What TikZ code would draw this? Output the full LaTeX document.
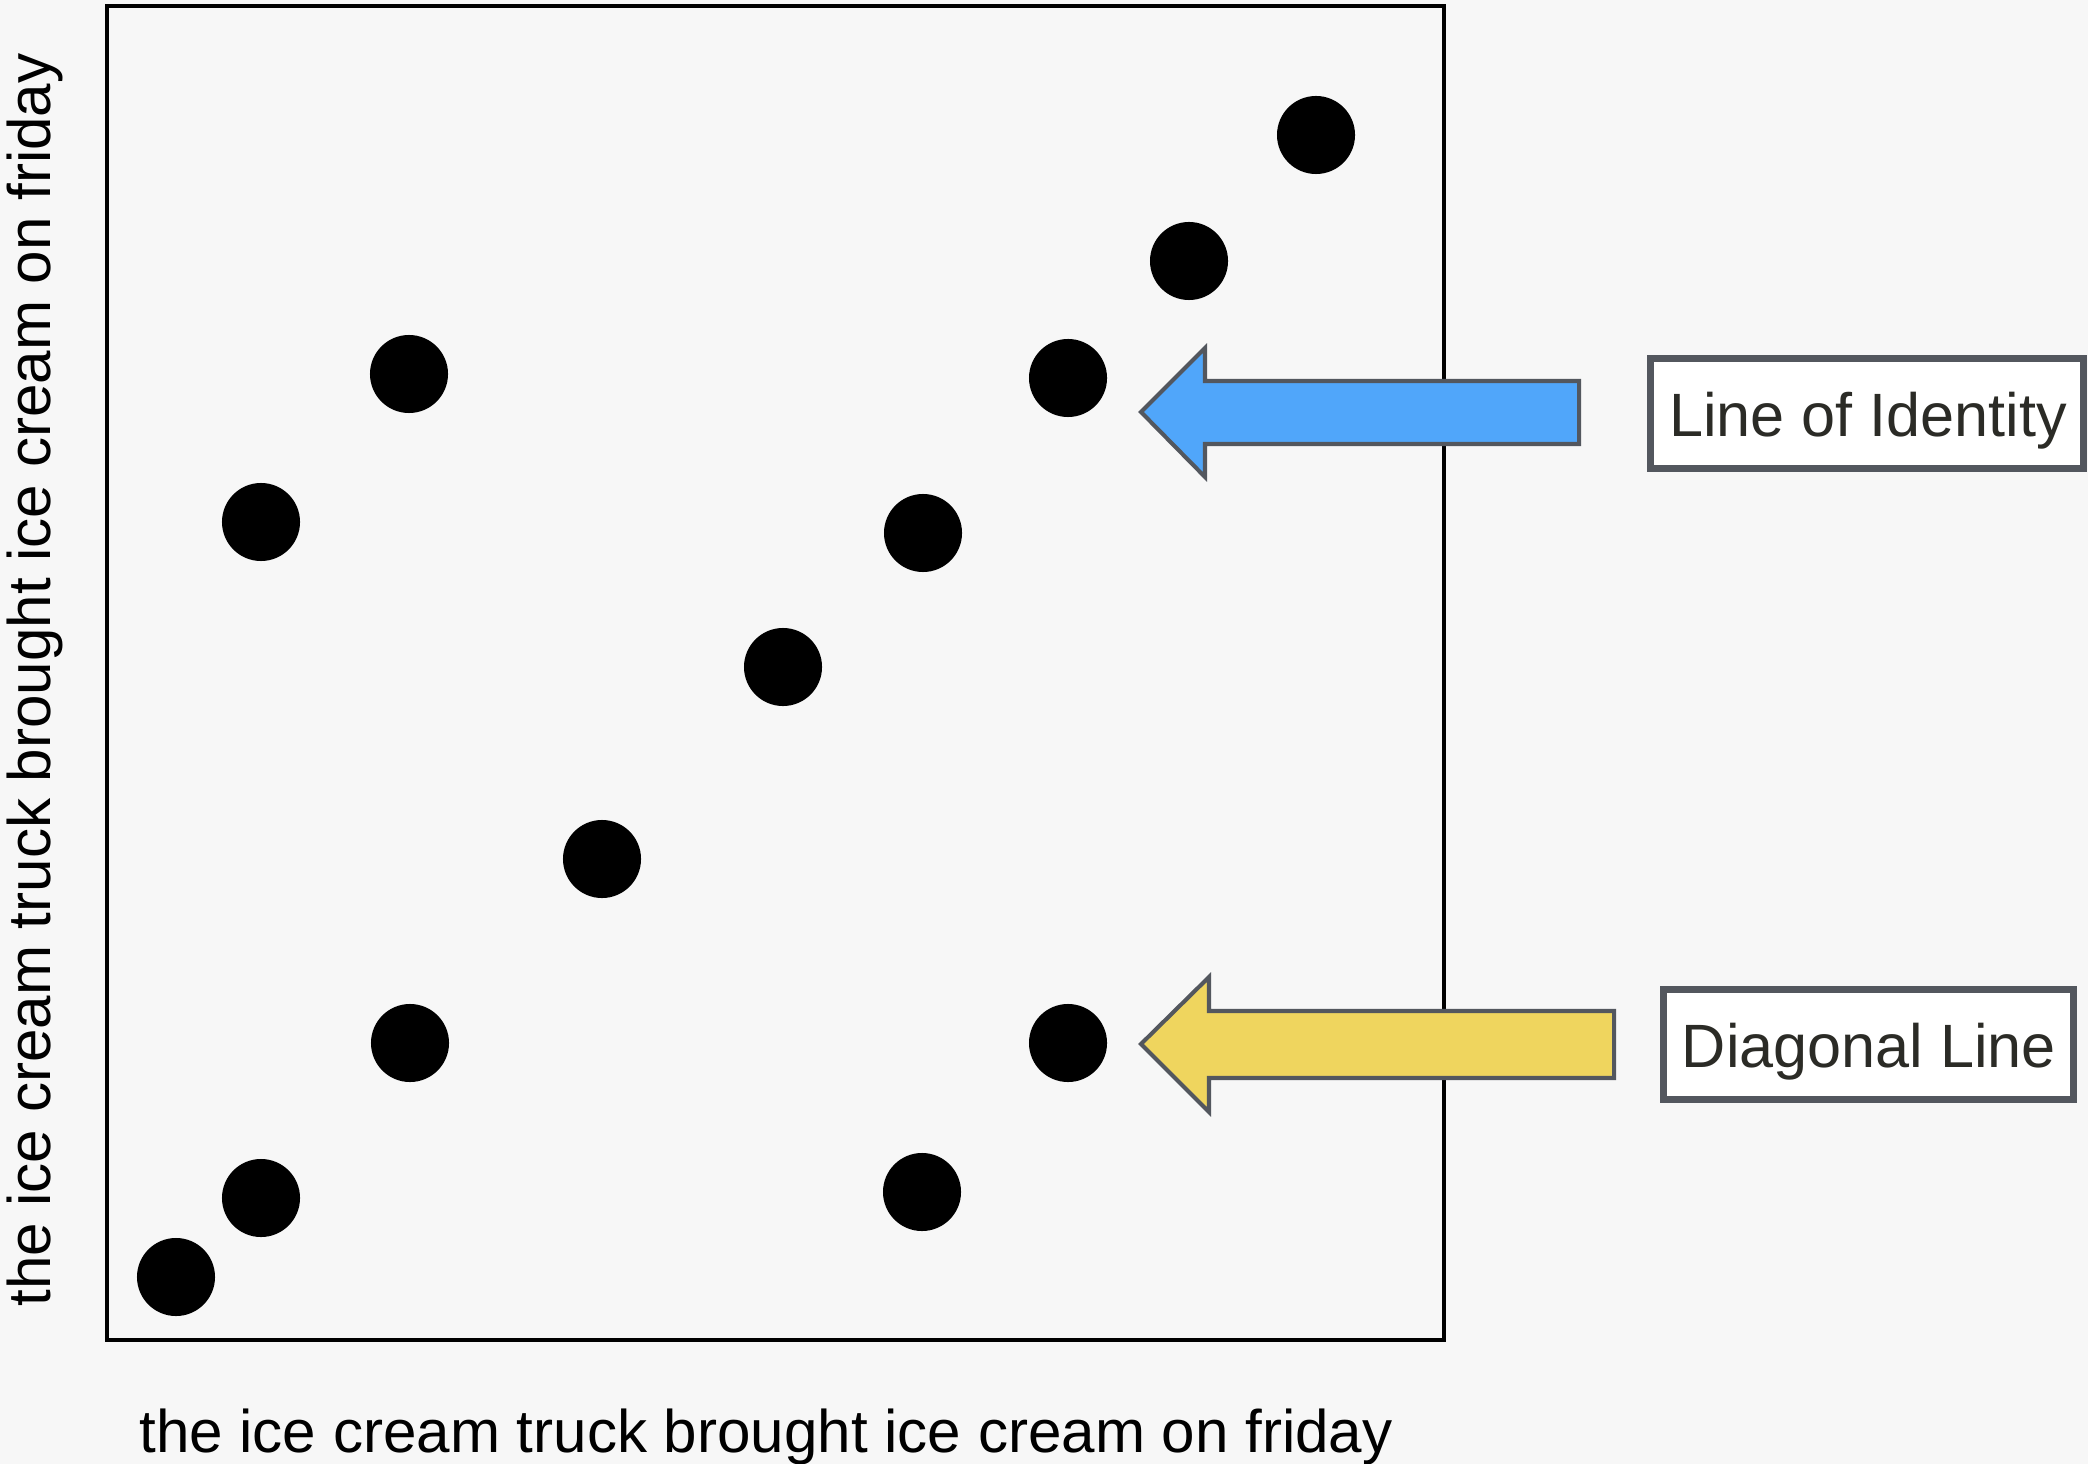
\documentclass[tikz,border=0pt]{standalone}
\usepackage{fontspec}
\setmainfont{Liberation Sans}
\definecolor{bg}{HTML}{F7F7F7}
\definecolor{blueA}{HTML}{50A6FA}
\definecolor{yellowA}{HTML}{EFD55E}
\definecolor{edgeG}{HTML}{53575E}
\definecolor{txt}{HTML}{2B2B26}
\tikzset{
  dot/.style={circle,fill=black,inner sep=0pt,minimum size=0.78cm},
  blockarrow/.style={draw=edgeG,line width=1.15pt,line join=miter},
  labelbox/.style={draw=edgeG,fill=white,line width=2.1pt,inner sep=0pt,text=txt,
    font=\fontsize{17.2}{20}\selectfont},
  labeltext/.style={inner sep=0pt,text=txt,font=\fontsize{17.4}{20}\selectfont,anchor=base},
  axislabel/.style={font=\fontsize{17.1}{20}\selectfont,text=black,inner sep=0pt,anchor=base}
}
\begin{document}
\begin{tikzpicture}[x=0.01cm,y=-0.01cm]
\useasboundingbox[fill=bg] (0,0) rectangle (2088,1464);
% plot frame
\draw[line width=1.0pt] (107,6) rectangle (1444,1340);
% dots
\node[dot] (d1) at (176,1277) {};
\node[dot] (d2) at (261,1198) {};
\node[dot] (d3) at (410,1043) {};
\node[dot] (d4) at (602,859) {};
\node[dot] (d5) at (783,667) {};
\node[dot] (d6) at (923,533) {};
\node[dot] (d7) at (1068,378) {};
\node[dot] (d8) at (1189,261) {};
\node[dot] (d9) at (1316,135) {};
\node[dot] (d10) at (261,522) {};
\node[dot] (d11) at (409,374) {};
\node[dot] (d12) at (1068,1043) {};
\node[dot] (d13) at (922,1192) {};
% blue block arrow
\filldraw[blockarrow,fill=blueA]
  (1141,412) -- (1205,348) -- (1205,381) -- (1579,381) -- (1579,444)
  -- (1205,444) -- (1205,477) -- cycle;
% yellow block arrow
\filldraw[blockarrow,fill=yellowA]
  (1141,1044) -- (1209,977) -- (1209,1011) -- (1614,1011) -- (1614,1078)
  -- (1209,1078) -- (1209,1112) -- cycle;
% label boxes
\node[labelbox,minimum width=4.33cm,minimum height=1.10cm] (loi) at (1867,413.5) {};
\node[labeltext] (loit) at (1868,436) {Line of Identity};
\node[labelbox,minimum width=4.10cm,minimum height=1.10cm] (dl) at (1868.5,1044.5) {};
\node[labeltext] (dlt) at (1869,1067) {Diagonal Line};
% axis labels
\node[axislabel] (xl) at (766,1452) {the ice cream truck brought ice cream on friday};
\node[axislabel,rotate=90] (yl) at (50,680) {the ice cream truck brought ice cream on friday};
\end{tikzpicture}
\end{document}
